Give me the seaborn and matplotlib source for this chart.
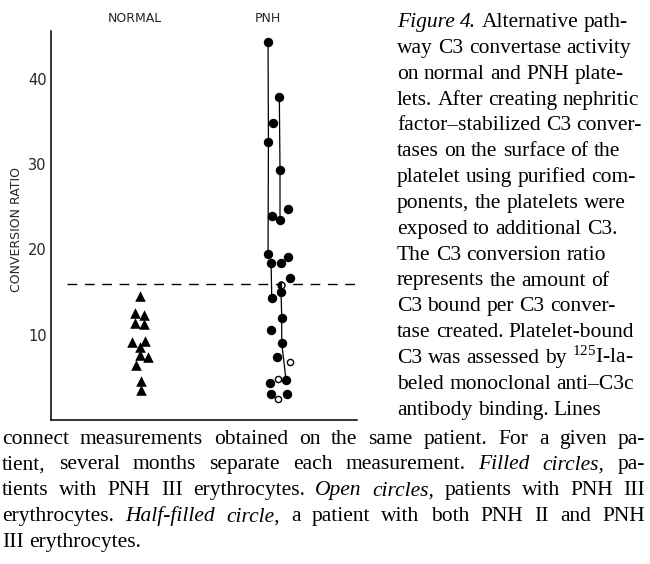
import numpy as np
import pandas as pd
import seaborn as sns
import matplotlib.pyplot as plt

# categories along the top
categories = ["NORMAL", "PNH"]

# normal platelets (filled triangles), ratio and small sideways spread
normal_ratio = [14.5, 12.5, 12.3, 11.4, 11.2, 9.3, 9.1, 8.5, 7.6, 7.4, 6.4, 4.6, 3.5]
normal_offset = [0.04, 0.0, 0.07, 0.0, 0.07, 0.075, -0.02, 0.04, 0.04, 0.10, 0.01, 0.045, 0.045]

# PNH platelets (circles); same patient letter = measurements joined by a line
pnh_ratio = [44.3, 37.9, 34.8, 32.6, 29.3, 24.7, 23.9, 23.4, 19.5, 19.1, 18.4, 18.4, 16.7, 15.8,
             15.0, 14.3, 11.9, 10.5, 9.0, 7.4, 6.8, 4.8, 4.7, 4.3, 3.1, 3.1, 2.5]
pnh_offset = [0.0, 0.085, 0.04, 0.003, 0.09, 0.15, 0.032, 0.09, 0.0, 0.153, 0.023, 0.095, 0.165, 0.098,
              0.098, 0.028, 0.103, 0.023, 0.103, 0.068, 0.163, 0.077, 0.135, 0.017, 0.02, 0.14, 0.077]
pnh_kind = ["filled"] * 13 + ["half"] + ["filled"] * 6 + ["open", "open", "filled", "filled", "filled", "filled", "open"]
pnh_patient = ["A", "B", "", "A", "B", "", "", "B", "A", "", "C", "", "", "",
               "D", "C", "D", "", "D", "", "", "", "D", "", "", "", ""]

cutoff = 16.0

# caption, line by line as in the print (text, style)
side_lines = [
    [("Figure 4.", "italic"), ("Alternative path-", "normal")],
    [("way C3 convertase activity", "normal")],
    [("on normal and PNH plate-", "normal")],
    [("lets. After creating nephritic", "normal")],
    [("factor–stabilized C3 conver-", "normal")],
    [("tases on the surface of the", "normal")],
    [("platelet using purified com-", "normal")],
    [("ponents, the platelets were", "normal")],
    [("exposed to additional C3.", "normal")],
    [("The C3 conversion ratio", "normal")],
    [("represents the amount of", "normal")],
    [("C3 bound per C3 conver-", "normal")],
    [("tase created. Platelet-bound", "normal")],
    [("C3 was assessed by $^{125}$I-la-", "normal")],
    [("beled monoclonal anti–C3c", "normal")],
    [("antibody binding. Lines", "normal")],
]
bottom_lines = [
    [("connect measurements obtained on the same patient. For a given pa-", "normal")],
    [("tient, several months separate each measurement.", "normal"), ("Filled circles,", "italic"), ("pa-", "normal")],
    [("tients with PNH III erythrocytes.", "normal"), ("Open circles,", "italic"), ("patients with PNH III", "normal")],
    [("erythrocytes.", "normal"), ("Half-filled circle,", "italic"), ("a patient with both PNH II and PNH", "normal")],
    [("III erythrocytes.", "normal")],
]

sns.set_style("white")
plt.rcParams["font.family"] = ["DejaVu Sans"]
plt.rcParams["mathtext.fontset"] = "custom"
plt.rcParams["mathtext.rm"] = "Liberation Serif"
plt.rcParams["mathtext.it"] = "Liberation Serif:italic"
plt.rcParams["mathtext.default"] = "rm"

W, H = 650, 564
fig = plt.figure(figsize=(W / 100, H / 100), dpi=100)
ax = fig.add_axes([51 / W, 1 - 420 / H, 306 / W, 389 / H])

normal = pd.DataFrame({"x": categories.index("NORMAL") + np.array(normal_offset), "ratio": normal_ratio})
pnh = pd.DataFrame({"x": categories.index("PNH") + np.array(pnh_offset), "ratio": pnh_ratio,
                    "kind": pnh_kind, "patient": pnh_patient})

ax.axhline(cutoff, xmin=0.052, xmax=1.0, color="black", lw=1, dashes=(7, 5.5))

# lines joining repeat measurements
sns.lineplot(data=pnh[pnh["patient"] != ""], x="x", y="ratio", units="patient", estimator=None,
             sort=False, color="black", lw=0.9, legend=False, ax=ax)

sns.scatterplot(data=normal, x="x", y="ratio", marker="^", s=58, color="black", linewidth=0, ax=ax)
sns.scatterplot(data=pnh[pnh["kind"] == "filled"], x="x", y="ratio", marker="o", s=46,
                color="black", linewidth=0, ax=ax, zorder=3)
sns.scatterplot(data=pnh[pnh["kind"] == "open"], x="x", y="ratio", marker="o", s=20,
                facecolor="white", edgecolor="black", linewidth=1, ax=ax, zorder=3)
sns.lineplot(data=pnh[pnh["kind"] == "half"], x="x", y="ratio", marker="o", markersize=5, linestyle="none",
             color="black", mec="black", mew=1, fillstyle="left", markerfacecoloralt="white",
             legend=False, ax=ax, zorder=4)

ax.set_xlim(-0.632, 1.669)
ax.set_ylim(0, 45.6)
ax.set_yticks([10, 20, 30, 40])
ax.tick_params(axis="y", direction="in", length=6, width=1, pad=3, labelsize=10.5)
ax.xaxis.tick_top()
ax.set_xticks(range(len(categories)))
ax.set_xticklabels(categories)
ax.tick_params(axis="x", length=0, pad=4, labelsize=9)
ax.set_xlabel("")
ax.set_ylabel("CONVERSION RATIO", fontsize=9)
ax.yaxis.set_label_coords(-0.09, 0.49)
for side in ["top", "right"]:
    ax.spines[side].set_visible(False)
for side in ["left", "bottom"]:
    ax.spines[side].set_linewidth(1.1)
    ax.spines[side].set_color("black")

cap_font = dict(family="Liberation Serif", fontsize=15.5, color="black")
space_px = 0.25 * 15.5 * 100 / 72
renderer = fig.canvas.get_renderer()


def caption_line(x_px, y_px, parts, right_px=None):
    # place word by word; justified lines get their spaces stretched to right_px
    words = [(w, st) for s, st in parts for w in s.split(" ")]
    texts = [fig.text(0, 1 - y_px / H, w, style=st, va="baseline", ha="left", **cap_font) for w, st in words]
    widths = [t.get_window_extent(renderer).width for t in texts]
    gap = space_px if right_px is None else (right_px - x_px - sum(widths)) / (len(texts) - 1)
    x = x_px
    for t, w in zip(texts, widths):
        t.set_x(x / W)
        x += w + gap


step = 25.85
for i, parts in enumerate(side_lines):
    caption_line(397, 27 + i * step, parts)
for j, parts in enumerate(bottom_lines):
    last = j == len(bottom_lines) - 1
    caption_line(2, 30 + (len(side_lines) + j) * step, parts, None if last else 645)

fig.savefig("out.png", dpi=100)
